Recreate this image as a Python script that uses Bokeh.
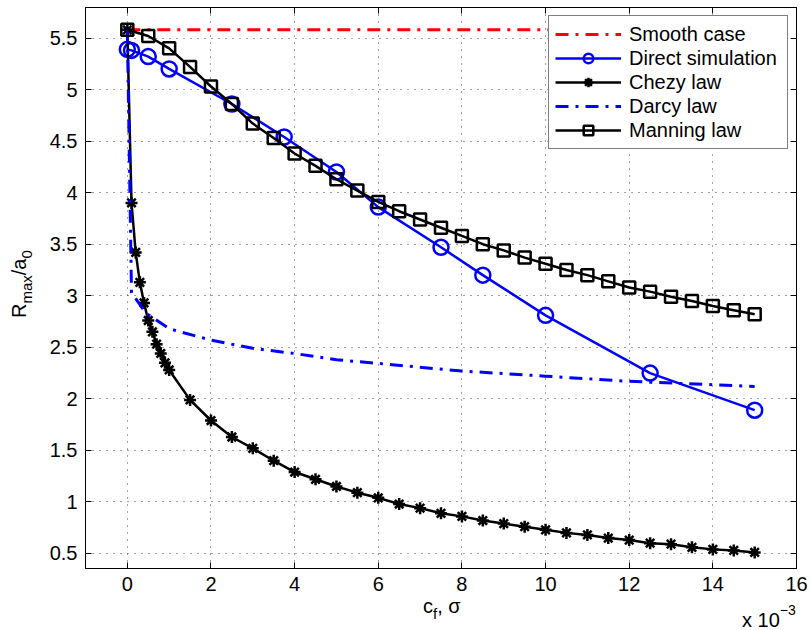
from bokeh.plotting import figure
from bokeh.models import (Range1d, LinearAxis, FixedTicker, CustomJSTickFormatter, Div)
from bokeh.layouts import row, column
from bokeh.embed import file_html
from bokeh.resources import INLINE

# ---------------- data (x in units of 1e-3) ----------------
x_ticks = [0, 2, 4, 6, 8, 10, 12, 14, 16]
y_ticks = [0.5, 1.0, 1.5, 2.0, 2.5, 3.0, 3.5, 4.0, 4.5, 5.0, 5.5]

smooth_x = [0, 15]
smooth_y = [5.58, 5.58]

direct_x = [0, 0.1, 0.5, 1, 2.5, 3.75, 5, 6, 7.5, 8.5, 10, 12.5, 15]
direct_y = [5.39, 5.38, 5.32, 5.20, 4.86, 4.54, 4.20, 3.86, 3.47, 3.20, 2.81, 2.25, 1.89]

chezy_x = [0, 0.1, 0.2, 0.3, 0.4, 0.5, 0.6, 0.7, 0.8, 0.9, 1.0,
           1.5, 2.0, 2.5, 3.0, 3.5, 4.0, 4.5, 5.0, 5.5, 6.0, 6.5, 7.0, 7.5, 8.0,
           8.5, 9.0, 9.5, 10.0, 10.5, 11.0, 11.5, 12.0, 12.5, 13.0, 13.5, 14.0, 14.5, 15.0]
chezy_y = [5.58, 3.90, 3.42, 3.13, 2.93, 2.76, 2.65, 2.53, 2.44, 2.35, 2.28,
           1.99, 1.79, 1.63, 1.52, 1.40, 1.29, 1.22, 1.15, 1.09, 1.04, 0.98, 0.94, 0.89, 0.86,
           0.82, 0.79, 0.76, 0.73, 0.70, 0.68, 0.65, 0.63, 0.60, 0.59, 0.56, 0.54, 0.53, 0.51]

darcy_x = [0, 0.1, 0.15, 0.45, 1, 2, 3, 4, 5, 8, 10, 12, 15]
darcy_y = [5.58, 3.03, 3.0, 2.83, 2.68, 2.57, 2.49, 2.44, 2.38, 2.27, 2.22, 2.17, 2.12]

manning_x = [0, 0.5, 1, 1.5, 2, 2.5, 3, 3.5, 4, 4.5, 5, 5.5, 6, 6.5, 7, 7.5, 8,
             8.5, 9, 9.5, 10, 10.5, 11, 11.5, 12, 12.5, 13, 13.5, 14, 14.5, 15]
manning_y = [5.58, 5.52, 5.40, 5.22, 5.03, 4.86, 4.67, 4.53, 4.38, 4.26, 4.13, 4.02,
             3.91, 3.82, 3.74, 3.66, 3.58, 3.50, 3.44, 3.37, 3.31, 3.25, 3.20, 3.14,
             3.08, 3.04, 2.99, 2.95, 2.90, 2.86, 2.82]

# ---------------- layout ----------------
X0, X1 = -1.0, 16.0
Y0, Y1 = 0.3545, 5.796
FONT = "Liberation Sans"
W, H = 811, 630
LW = 45                 # width of the y-title strip on the left
PH = 599                # figure height (x-title strip below)
FL, FR, FT, FB = 85, 796, 7, 568   # frame edges in page pixels

p = figure(width=W - LW, height=PH, x_range=Range1d(X0, X1), y_range=Range1d(Y0, Y1),
           output_backend="svg", toolbar_location=None,
           min_border_left=FL - LW, min_border_right=W - FR,
           min_border_top=FT, min_border_bottom=PH - FB, margin=0)
p.outline_line_color = "black"
p.outline_line_width = 1
p.background_fill_color = "white"
p.border_fill_color = "white"

xt = FixedTicker(ticks=x_ticks)
yt = FixedTicker(ticks=y_ticks)
fmt = CustomJSTickFormatter(code="return tick.toString();")

for ax, tk in ((p.xaxis[0], xt), (p.yaxis[0], yt)):
    ax.ticker = tk
    ax.formatter = fmt
    ax.major_label_text_font = FONT
    ax.major_label_text_font_size = "20px"
    ax.major_label_text_color = "black"
    ax.major_tick_in = 6
    ax.major_tick_out = 0
    ax.minor_tick_in = 0
    ax.minor_tick_out = 0
    ax.axis_line_color = "black"
    ax.major_tick_line_color = "black"
    ax.major_label_standoff = 8

for loc, tk in (("right", yt), ("above", xt)):
    ax = LinearAxis(ticker=tk, major_label_text_font_size="0px", major_label_text_color=None,
                    major_label_standoff=0,
                    major_tick_in=6, major_tick_out=0, minor_tick_in=0, minor_tick_out=0,
                    axis_line_color="black", major_tick_line_color="black")
    p.add_layout(ax, loc)

p.xgrid.ticker = xt
p.ygrid.ticker = yt
for g in (p.xgrid[0], p.ygrid[0]):
    g.grid_line_color = "black"
    g.grid_line_alpha = 0.75
    g.grid_line_dash = "1 6"
    g.grid_line_width = 1

# ---------------- series ----------------
p.line(smooth_x, smooth_y, color="#ff0000", line_width=3, line_dash="13 7 3 7",
       legend_label="Smooth case")

p.line(direct_x, direct_y, color="#0000ff", line_width=2.5, legend_label="Direct simulation")
p.scatter(direct_x, direct_y, marker="circle", size=15, fill_color=None,
          line_color="#0000ff", line_width=2.5, legend_label="Direct simulation")

p.line(chezy_x, chezy_y, color="black", line_width=2.5, legend_label="Chezy law")
p.scatter(chezy_x, chezy_y, marker="asterisk", size=12, line_color="black",
          line_width=2.5, legend_label="Chezy law")

p.line(darcy_x, darcy_y, color="#0000ff", line_width=3, line_dash="13 7 3 7",
       legend_label="Darcy law")

p.line(manning_x, manning_y, color="black", line_width=2.5, legend_label="Manning law")
p.scatter(manning_x, manning_y, marker="square", size=12, fill_color=None,
          line_color="black", line_width=2.5, legend_label="Manning law")

# legend box: left 548, bottom 149 in page pixels (location = bottom-left in frame px)
lg = p.legend[0]
lg.location = (548 - FL, FB - 149)
lg.margin = 0
lg.padding = 6
lg.spacing = 0
lg.label_height = 24
lg.glyph_height = 24
lg.glyph_width = 66
lg.label_standoff = 8
lg.label_width = 152
lg.label_text_font = FONT
lg.label_text_font_size = "20px"
lg.label_text_color = "black"
lg.border_line_color = "black"
lg.border_line_width = 1
lg.background_fill_color = "white"
lg.background_fill_alpha = 1.0

# ---------------- axis titles as real text (HTML) ----------------
BASE = f"position:absolute;white-space:nowrap;font-family:'{FONT}';font-size:20px;line-height:20px;color:black;"
SUB = "font-size:15px;vertical-align:-6px;line-height:0;"
SUP = "font-size:14px;vertical-align:12px;line-height:0;"

# x title strip: top at page y = PH, left at page x = LW
x_html = (
    f"<div style='position:relative;width:{W - LW}px;height:{H - PH}px;'>"
    f"<span style=\"{BASE}left:{423 - LW}px;top:{613 - PH - 17}px;\">c<span style='{SUB}'>f</span>, σ</span>"
    f"<span style=\"{BASE}left:{742 - LW}px;top:{627 - PH - 17}px;\">x 10<span style='{SUP}'>\u22123</span></span>"
    "</div>"
)
xdiv = Div(text=x_html, width=W - LW, height=H - PH, margin=0)

# y title strip: rotated text, baseline at page x = 26, starting at page y = 318
y_html = (
    f"<div style='position:relative;width:{LW}px;height:{H}px;'>"
    f"<span style=\"{BASE}left:{26 - 17}px;top:318px;transform-origin:0 0;transform:rotate(-90deg);\">"
    f"R<span style='{SUB}'>max</span>/a<span style='{SUB}'>0</span></span>"
    "</div>"
)
ydiv = Div(text=y_html, width=LW, height=H, margin=0)

layout = row(ydiv, column(p, xdiv, spacing=0), spacing=0)

open("out.html", "w").write(file_html(layout, INLINE))
